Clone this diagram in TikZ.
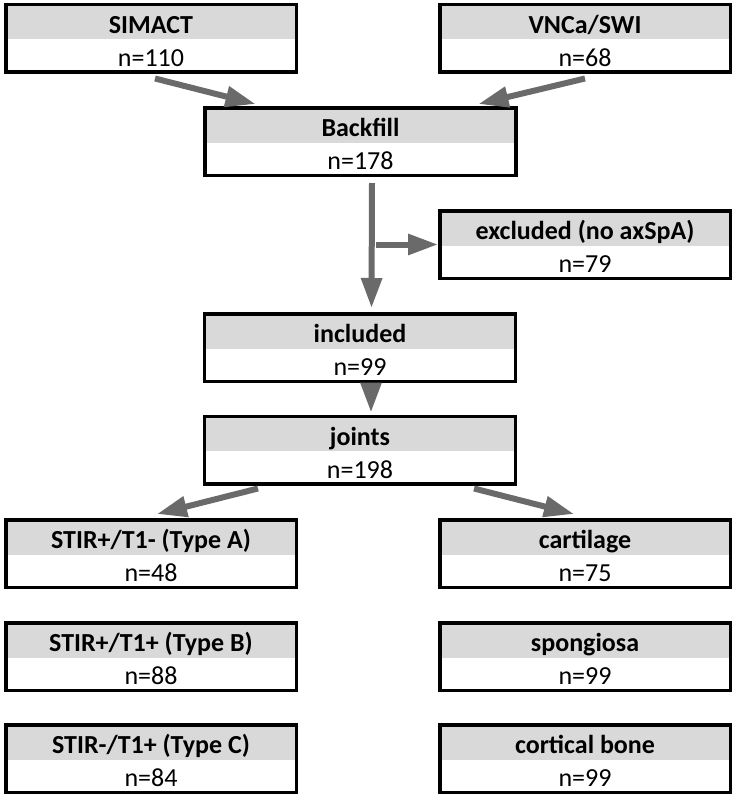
\documentclass[tikz,border=0pt]{standalone}
\usepackage{fontspec}
\setmainfont{Carlito}
\usetikzlibrary{arrows.meta}
\definecolor{headgray}{HTML}{D9D9D9}
\definecolor{arrgray}{HTML}{6A6A6A}
\newcommand{\boxtext}[2]{\rule{0pt}{25pt}\textbf{#1}\\\rule[-2pt]{0pt}{2pt}#2}

\begin{document}
\begin{tikzpicture}[x=1pt,y=-1pt,
  flowbox/.style={draw,line width=3.5pt,minimum width=290.5pt,minimum height=67.5pt,
    inner sep=0pt,align=center,font=\fontsize{26}{33}\selectfont,
    path picture={\fill[headgray] (path picture bounding box.north west)
      rectangle ([yshift=-1pt]path picture bounding box.east);}},
  widebox/.style={flowbox,minimum width=311pt},
  arr/.style={-{Triangle[length=30pt,width=20pt]},line width=6pt,arrgray}]
\useasboundingbox (0,0) rectangle (735,798);

\node[flowbox] (simact) at (151,38) {\boxtext{SIMACT}{n=110}};
\node[flowbox] (vnca) at (585,38) {\boxtext{VNCa/SWI}{n=68}};
\node[widebox] (backfill) at (360.5,141.5) {\boxtext{Backfill}{n=178}};
\node[flowbox] (excl) at (585,244.5) {\boxtext{excluded (no axSpA)}{n=79}};
\node[widebox] (incl) at (360,347.5) {\boxtext{included}{n=99}};
\node[widebox] (joints) at (360,450) {\boxtext{joints}{n=198}};

% lesion types
\node[flowbox] (typea) at (151,553.5) {\boxtext{STIR+/T1- (Type A)}{n=48}};
\node[flowbox] (typeb) at (151,656.5) {\boxtext{STIR+/T1+ (Type B)}{n=88}};
\node[flowbox] (typec) at (151,758.5) {\boxtext{STIR-/T1+ (Type C)}{n=84}};
% tissues
\node[flowbox] (cart) at (585,553.5) {\boxtext{cartilage}{n=75}};
\node[flowbox] (spong) at (585,656.5) {\boxtext{spongiosa}{n=99}};
\node[flowbox] (cort) at (585,758.5) {\boxtext{cortical bone}{n=99}};

\draw[arr] ([xshift=4pt,yshift=-5pt]simact.south) -- ([xshift=-105pt,yshift=2pt]backfill.north);
\draw[arr] ([yshift=-5pt]vnca.south) -- ([xshift=118pt,yshift=2pt]backfill.north);
\draw[arr] ([xshift=11.5pt,yshift=-6pt]backfill.south) -- ([xshift=11.5pt,yshift=4pt]incl.north);
\coordinate (split) at (372,244.5);
\draw[arr] ([xshift=4pt]split) -- (excl.west |- split);
\draw[arr] ([xshift=11pt]incl.south) -- ([xshift=11pt,yshift=2pt]joints.north);
\draw[arr] ([xshift=-102pt,yshift=-3pt]joints.south) -- ([xshift=6pt,yshift=4pt]typea.north);
\draw[arr] ([xshift=114pt,yshift=-3pt]joints.south) -- ([xshift=-11pt,yshift=4pt]cart.north);
\end{tikzpicture}
\end{document}
